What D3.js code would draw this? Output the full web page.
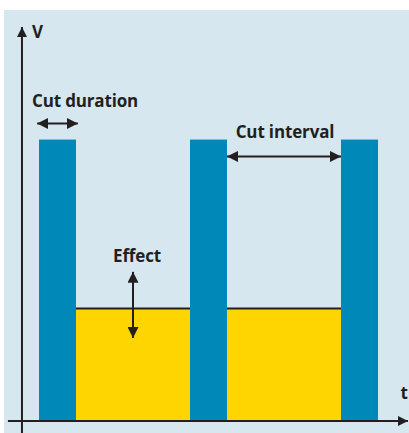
<!DOCTYPE html>
<html>
<head>
<meta charset="utf-8">
<script src="https://cdn.jsdelivr.net/npm/d3@7"></script>
<style>
  html, body { margin: 0; padding: 0; background: #fff; }
  text { font-family: "Open Sans", "Noto Sans", sans-serif; font-weight: 700; fill: #231f20; }
</style>
</head>
<body>
<div id="chart"></div>
<script>
// cut pulses: start time and duration (arbitrary time units), cut level
var cutStarts = [0, 4.08, 8.16];
var cutDuration = 1;
var cutLevel = 1.0;
// effect level between cuts
var effectLevel = 0.40;
// axis labels
var axisLabels = ["V", "t"];

var W = 409, H = 433;
var BG = "#d6e7f0", BLUE = "#0089b8", YELLOW = "#ffd500", INK = "#231f20";

var svg = d3.select("#chart").append("svg").attr("width", W).attr("height", H);

// background panel
svg.append("rect").attr("x", 4).attr("y", 10).attr("width", W - 4).attr("height", H - 10).attr("fill", BG);

var x = d3.scaleLinear().domain([0, 9.16]).range([39, 378]);
var y = d3.scaleLinear().domain([0, 1.4]).range([421, 27]);

var defs = svg.append("defs");
function head(id, s) {
  defs.append("marker").attr("id", id)
    .attr("viewBox", "0 0 10 10").attr("refX", 10).attr("refY", 5)
    .attr("markerWidth", s).attr("markerHeight", s).attr("markerUnits", "userSpaceOnUse")
    .attr("orient", "auto-start-reverse")
    .append("path").attr("d", "M0,0 L10,5 L0,10 Z").attr("fill", INK);
}
head("ah", 11);
head("axh", 10);

// gaps between cuts (effect region)
var gaps = d3.pairs(cutStarts).map(function(p) { return [p[0] + cutDuration, p[1]]; });

svg.selectAll(".effect").data(gaps).enter().append("rect").attr("class", "effect")
  .attr("x", function(d) { return x(d[0]); })
  .attr("width", function(d) { return x(d[1]) - x(d[0]); })
  .attr("y", y(effectLevel))
  .attr("height", y(0) - y(effectLevel))
  .attr("fill", YELLOW);

svg.selectAll(".effectTop").data(gaps).enter().append("line").attr("class", "effectTop")
  .attr("x1", function(d) { return x(d[0]); })
  .attr("x2", function(d) { return x(d[1]); })
  .attr("y1", y(effectLevel)).attr("y2", y(effectLevel))
  .attr("stroke", INK).attr("stroke-width", 2);

// cut bars
svg.selectAll(".cut").data(cutStarts).enter().append("rect").attr("class", "cut")
  .attr("x", function(d) { return x(d); })
  .attr("width", x(cutDuration) - x(0))
  .attr("y", y(cutLevel))
  .attr("height", y(0) - y(cutLevel))
  .attr("fill", BLUE);

// axes
svg.append("line").attr("x1", x(-0.84)).attr("x2", x(9.97)).attr("y1", y(0)).attr("y2", y(0))
  .attr("stroke", INK).attr("stroke-width", 2).attr("marker-end", "url(#axh)");
svg.append("line").attr("x1", x(-0.46)).attr("x2", x(-0.46)).attr("y1", H).attr("y2", y(1.4))
  .attr("stroke", INK).attr("stroke-width", 2).attr("marker-end", "url(#axh)");

svg.append("text").attr("x", x(-0.46) + 10).attr("y", y(1.4) + 11).attr("font-size", 17).text(axisLabels[0]);
svg.append("text").attr("x", W - 1).attr("y", y(0) - 22).attr("text-anchor", "end").attr("font-size", 17).text(axisLabels[1]);

// double-headed arrows
function dArrow(x1, y1, x2, y2) {
  svg.append("line").attr("x1", x1).attr("y1", y1).attr("x2", x2).attr("y2", y2)
    .attr("stroke", INK).attr("stroke-width", 2)
    .attr("marker-start", "url(#ah)").attr("marker-end", "url(#ah)");
}

// cut duration
dArrow(x(-0.05), y(1.057), x(cutDuration + 0.05), y(1.057));
svg.append("text").attr("x", x(-0.19)).attr("y", y(1.117)).attr("font-size", 17)
  .attr("letter-spacing", -0.15).text("Cut duration");

// cut interval
var g0 = gaps[1];
dArrow(x(g0[0]), y(0.94), x(g0[1]), y(0.94));
svg.append("text").attr("x", (x(g0[0]) + x(g0[1])) / 2 + 1).attr("y", y(1.004))
  .attr("text-anchor", "middle").attr("font-size", 17).attr("letter-spacing", -0.15).text("Cut interval");

// effect
var ex = x(2.54);
dArrow(ex, y(0.53), ex, y(0.295));
svg.append("text").attr("x", ex + 4).attr("y", y(0.566))
  .attr("text-anchor", "middle").attr("font-size", 17).attr("letter-spacing", -0.15).text("Effect");
</script>
</body>
</html>
